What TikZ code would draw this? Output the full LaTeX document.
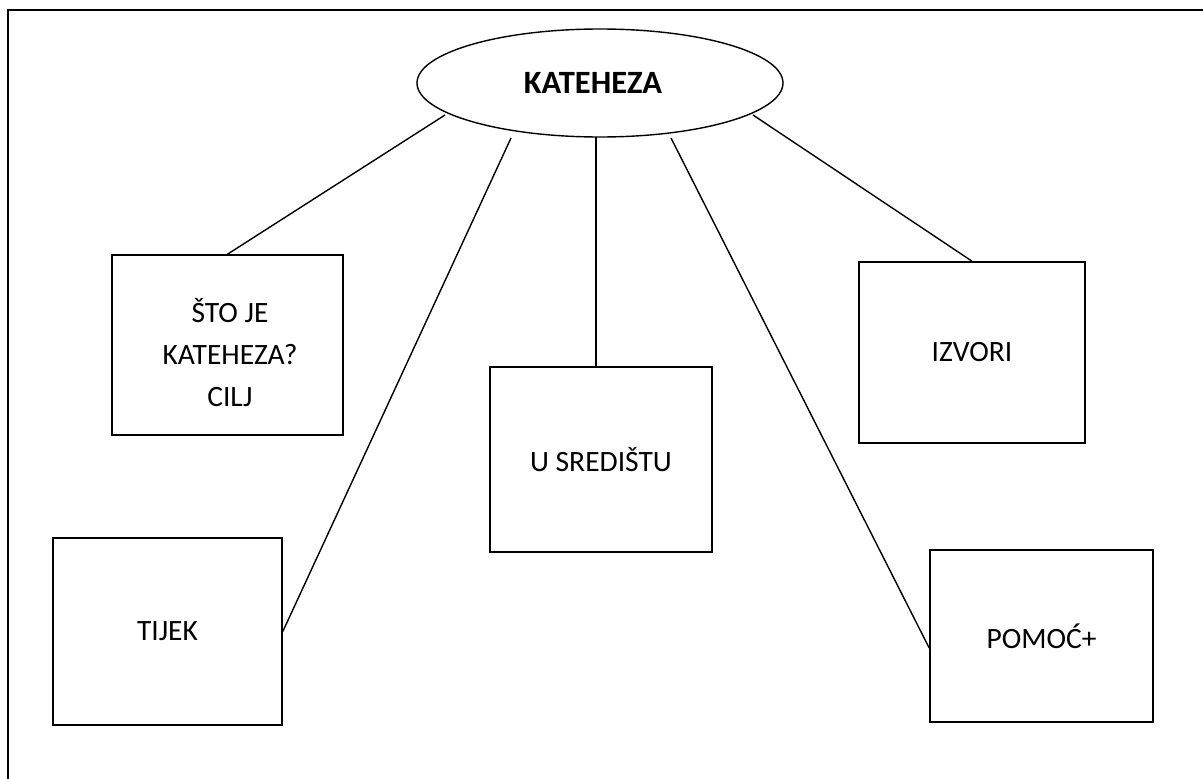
\documentclass[tikz,border=0pt]{standalone}
\usepackage{fontspec}
\setmainfont{Carlito}
\usetikzlibrary{shapes.geometric}
\tikzset{
  box/.style={draw=black, line width=1.6pt, rectangle, inner sep=0pt},
  lbl/.style={font=\fontsize{29.5}{42}\selectfont, align=center, inner sep=0pt},
  link/.style={draw=black, line width=1.4pt},
  frame/.style={draw=black, line width=2.6pt}
}
\begin{document}
\begin{tikzpicture}[x=1pt, y=-1pt]
\useasboundingbox (0,0) rectangle (1203,779);
\fill[white] (0,0) rectangle (1203,779);
% outer frame (only left and top visible)
\draw[frame] (8,779) -- (8,10) -- (1203,10);

% central ellipse
\node[ellipse, draw=black, line width=1.4pt, minimum width=366pt, minimum height=108pt, inner sep=0pt,
      font=\bfseries\fontsize{32.5}{36}\selectfont] (kat) at (600,83) {\hspace*{-14pt}KATEHEZA};

% boxes
\node[box, minimum width=231pt, minimum height=180pt] (sto) at (227.5,345) {};
\node[lbl] (stot) at (230,353) {ŠTO JE\\KATEHEZA?\\CILJ};
\node[box, lbl, draw, line width=1.6pt, minimum width=229pt, minimum height=187pt] (tij) at (167.5,631.5) {TIJEK};
\node[box, lbl, draw, line width=1.6pt, minimum width=222pt, minimum height=185pt] (usr) at (601,459.5) {U SREDIŠTU};
\node[box, lbl, draw, line width=1.6pt, minimum width=226pt, minimum height=181pt] (izv) at (972,352.5) {IZVORI};
\node[box, lbl, draw, line width=1.6pt, minimum width=223pt, minimum height=172pt] (pom) at (1041.5,636) {POMOĆ+};

% connector start points just below the ellipse
\coordinate (k1) at (445,115);
\coordinate (k2) at (511,138);
\coordinate (k3) at (596,137);
\coordinate (k4) at (671,138);
\coordinate (k5) at (753,115);

\draw[link] (k1) -- (sto.north);
\draw[link] (k2) -- (tij.east);
\draw[link] (k3) -- (usr.north -| k3);
\draw[link] (k4) -- ([yshift=-12pt]pom.west);
\draw[link] (k5) -- (izv.north);
\end{tikzpicture}
\end{document}
